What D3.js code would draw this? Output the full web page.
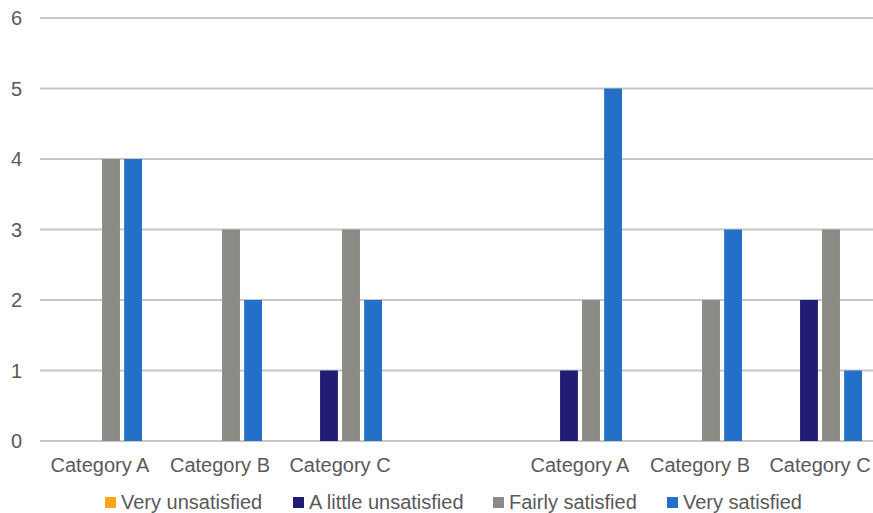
<!DOCTYPE html>
<html><head><meta charset="utf-8">
<script src="https://cdn.jsdelivr.net/npm/d3@7"></script>
<style>body{margin:0;background:#fff}svg{display:block;font-family:"Liberation Sans",Arial,sans-serif}</style>
</head><body>
<svg id="c" width="873" height="513"></svg>
<script>
const categories = ["Category A","Category B","Category C","","Category A","Category B","Category C"];
const seriesNames = ["Very unsatisfied","A little unsatisfied","Fairly satisfied","Very satisfied"];
const veryUnsatisfied   = [0,0,0,null,0,0,0];
const littleUnsatisfied = [0,0,1,null,1,0,2];
const fairlySatisfied   = [4,3,3,null,2,2,3];
const verySatisfied     = [4,2,2,null,5,3,1];
const yTicks = [0,1,2,3,4,5,6];
const colors = ["#F9A51A","#201C74","#8B8A85","#2470C8"];

const seriesValues = [veryUnsatisfied, littleUnsatisfied, fairlySatisfied, verySatisfied];
const svg = d3.select("#c");
const plotLeft = 40, plotRight = 880, plotTop = 18, plotBottom = 441;

const x0 = d3.scaleBand().domain(d3.range(categories.length)).range([plotLeft, plotRight]).padding(0);
const bw = x0.bandwidth();
const x1 = d3.scaleBand().domain(d3.range(seriesNames.length)).range([bw*0.15, bw*0.85]).paddingInner(0.19).paddingOuter(0);
const y = d3.scaleLinear().domain([0,6]).range([plotBottom, plotTop]);

// gridlines
svg.append("g").selectAll("line").data(yTicks).join("line")
  .attr("x1", plotLeft).attr("x2", plotRight)
  .attr("y1", d=>y(d)).attr("y2", d=>y(d))
  .attr("stroke", "#C6C6C6").attr("stroke-width", 2);

// y labels
svg.append("g").selectAll("text").data(yTicks).join("text")
  .attr("x", 22).attr("y", d=>y(d)).attr("dy","0.35em")
  .attr("text-anchor","end").attr("font-size",20).attr("fill","#595959")
  .text(d=>d);

// bars
const g = svg.append("g");
seriesValues.forEach((vals, si) => {
  g.append("g").selectAll("rect")
    .data(vals.map((v,i)=>({v,i})).filter(d=>d.v!==null && d.v>0))
    .join("rect")
    .attr("x", d=>x0(d.i)+x1(si))
    .attr("width", x1.bandwidth())
    .attr("y", d=>y(d.v))
    .attr("height", d=>y(0)-y(d.v))
    .attr("fill", colors[si]);
});

// x axis labels
svg.append("g").selectAll("text").data(categories.map((c,i)=>({c,i}))).join("text")
  .attr("x", d=>x0(d.i)+bw/2).attr("y", 472)
  .attr("text-anchor","middle").attr("font-size",20).attr("fill","#595959")
  .text(d=>d.c);

// legend
const legendX = [105, 293, 493, 667];
const lg = svg.append("g");
seriesNames.forEach((n,i)=>{
  lg.append("rect").attr("x",legendX[i]).attr("y",497).attr("width",11).attr("height",11).attr("fill",colors[i]);
  lg.append("text").attr("x",legendX[i]+16).attr("y",509).attr("font-size",20).attr("fill","#595959").text(n);
});
</script>
</body></html>
